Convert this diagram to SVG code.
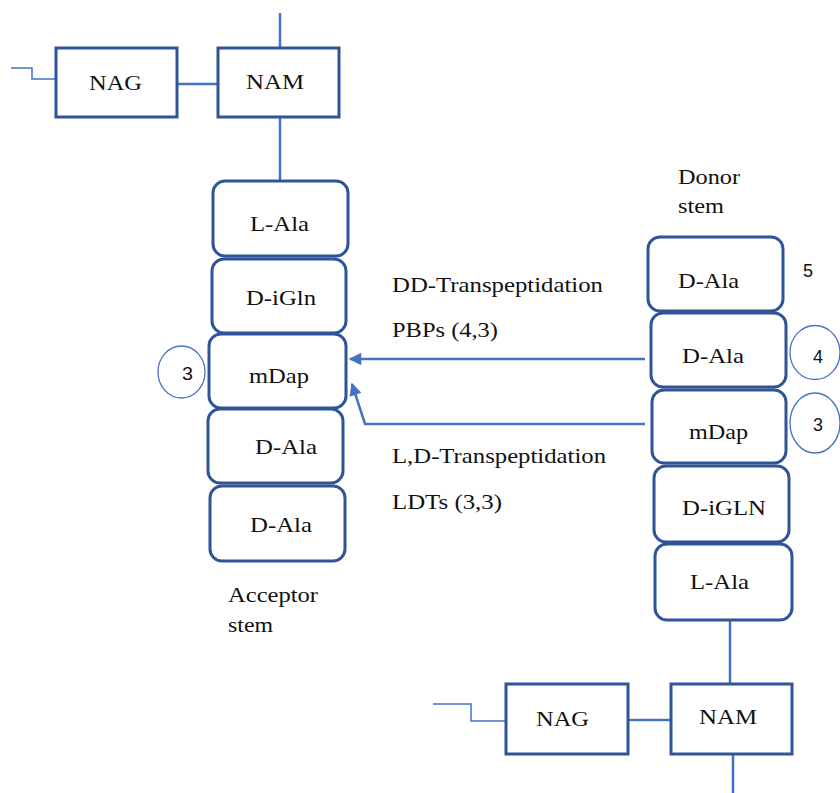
<svg xmlns="http://www.w3.org/2000/svg" width="840" height="793" viewBox="0 0 840 793">
<defs>
<style>
.box{fill:#fff;stroke:#2F5597;stroke-width:3}
.ln{fill:none;stroke:#4472C4;stroke-width:2.5}
.thin{fill:none;stroke:#4472C4;stroke-width:1.5}
.circ{fill:#fff;stroke:#4472C4;stroke-width:1.3}
.t{font-family:"Liberation Serif","Times New Roman",serif;font-size:21px;fill:#111}
.n{font-family:"Liberation Sans",Arial,sans-serif;font-size:18px;fill:#111}
</style>
<marker id="ah" viewBox="0 0 10 10" refX="9" refY="5" markerWidth="6" markerHeight="5" markerUnits="strokeWidth" orient="auto">
<path d="M0,0 L10,5 L0,10 Z" fill="#4472C4"/>
</marker>
</defs>
<g id="connectors">
<line class="ln" x1="280" y1="13" x2="280" y2="48"/>
<line class="ln" x1="177" y1="84" x2="218" y2="84"/>
<polyline class="thin" points="11,68 32,68 32,79 55,79"/>
<line class="ln" x1="280" y1="118" x2="280" y2="181"/>
<line class="ln" x1="730" y1="620" x2="730" y2="684"/>
<line class="ln" x1="628" y1="720" x2="671" y2="720"/>
<polyline class="thin" points="433,704 471,704 471,721 506,721"/>
<line class="ln" x1="733" y1="754" x2="733" y2="793"/>
<line class="ln" x1="645" y1="359" x2="350" y2="359" marker-end="url(#ah)"/>
<polyline class="ln" points="645,424 365,424 352,384" marker-end="url(#ah)"/>
</g>
<g id="nag-top"><rect class="box" x="56" y="48" width="121" height="69"/><text class="t" x="89" y="90" textLength="53" lengthAdjust="spacingAndGlyphs">NAG</text></g>
<g id="nam-top"><rect class="box" x="218" y="48" width="121" height="69"/><text class="t" x="246" y="89" textLength="58" lengthAdjust="spacingAndGlyphs">NAM</text></g>
<g id="acc-lala"><rect class="box" x="213" y="181" width="135" height="75" rx="12"/><text class="t" x="250" y="231" textLength="59" lengthAdjust="spacingAndGlyphs">L-Ala</text></g>
<g id="acc-digln"><rect class="box" x="212" y="259" width="134" height="74" rx="12"/><text class="t" x="246" y="305" textLength="70" lengthAdjust="spacingAndGlyphs">D-iGln</text></g>
<g id="acc-mdap"><rect class="box" x="209" y="334" width="137" height="74" rx="12"/><text class="t" x="249" y="383" textLength="60" lengthAdjust="spacingAndGlyphs">mDap</text></g>
<g id="acc-dala1"><rect class="box" x="208" y="409" width="135" height="74" rx="12"/><text class="t" x="255" y="454" textLength="62" lengthAdjust="spacingAndGlyphs">D-Ala</text></g>
<g id="acc-dala2"><rect class="box" x="210" y="486" width="135" height="75" rx="12"/><text class="t" x="250" y="532" textLength="62" lengthAdjust="spacingAndGlyphs">D-Ala</text></g>
<g id="acc-label"><text class="t" x="228" y="602" textLength="90" lengthAdjust="spacingAndGlyphs">Acceptor</text><text class="t" x="228" y="632" textLength="45" lengthAdjust="spacingAndGlyphs">stem</text></g>
<g id="circle-left-3"><ellipse class="circ" cx="181.5" cy="372" rx="23.5" ry="26"/><text class="n" x="182" y="380" textLength="11" lengthAdjust="spacingAndGlyphs">3</text></g>
<g id="don-label"><text class="t" x="678" y="184" textLength="62" lengthAdjust="spacingAndGlyphs">Donor</text><text class="t" x="678" y="213" textLength="46" lengthAdjust="spacingAndGlyphs">stem</text></g>
<g id="don-dala5"><rect class="box" x="648" y="237" width="135" height="74" rx="12"/><text class="t" x="678" y="288" textLength="61" lengthAdjust="spacingAndGlyphs">D-Ala</text></g>
<g id="num5"><text class="n" x="803" y="277" textLength="10" lengthAdjust="spacingAndGlyphs">5</text></g>
<g id="don-dala4"><rect class="box" x="651" y="313" width="135" height="74" rx="12"/><text class="t" x="682" y="363" textLength="62" lengthAdjust="spacingAndGlyphs">D-Ala</text></g>
<g id="circle-4"><ellipse class="circ" cx="815" cy="352.5" rx="25" ry="27"/><text class="n" x="813" y="363" textLength="10" lengthAdjust="spacingAndGlyphs">4</text></g>
<g id="don-mdap"><rect class="box" x="652" y="390" width="134" height="73" rx="12"/><text class="t" x="689" y="439" textLength="59" lengthAdjust="spacingAndGlyphs">mDap</text></g>
<g id="circle-right-3"><ellipse class="circ" cx="815" cy="423" rx="25" ry="30"/><text class="n" x="813" y="431" textLength="10" lengthAdjust="spacingAndGlyphs">3</text></g>
<g id="don-digln"><rect class="box" x="654" y="466" width="135" height="76" rx="12"/><text class="t" x="682" y="515" textLength="84" lengthAdjust="spacingAndGlyphs">D-iGLN</text></g>
<g id="don-lala"><rect class="box" x="655" y="544" width="137" height="76" rx="12"/><text class="t" x="690" y="589" textLength="59" lengthAdjust="spacingAndGlyphs">L-Ala</text></g>
<g id="nag-bottom"><rect class="box" x="506" y="684" width="122" height="70"/><text class="t" x="536" y="726" textLength="53" lengthAdjust="spacingAndGlyphs">NAG</text></g>
<g id="nam-bottom"><rect class="box" x="671" y="684" width="121" height="70"/><text class="t" x="699" y="724" textLength="58" lengthAdjust="spacingAndGlyphs">NAM</text></g>
<g id="labels">
<text class="t" x="392" y="292" textLength="211" lengthAdjust="spacingAndGlyphs">DD-Transpeptidation</text>
<text class="t" x="392" y="337" textLength="106" lengthAdjust="spacingAndGlyphs">PBPs (4,3)</text>
<text class="t" x="392" y="463" textLength="214" lengthAdjust="spacingAndGlyphs">L,D-Transpeptidation</text>
<text class="t" x="392" y="509" textLength="110" lengthAdjust="spacingAndGlyphs">LDTs (3,3)</text>
</g>
</svg>
